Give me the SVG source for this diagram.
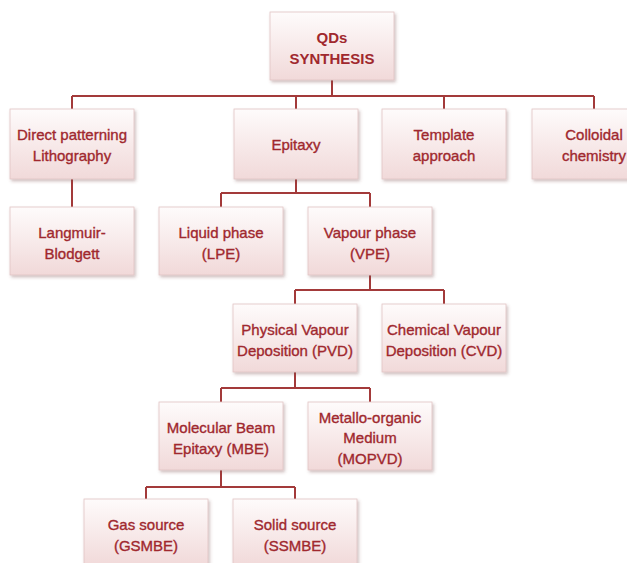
<svg xmlns="http://www.w3.org/2000/svg" width="627" height="563" viewBox="0 0 627 563">
<defs>
<linearGradient id="bg" x1="0" y1="0" x2="0" y2="1">
<stop offset="0" stop-color="#fefbfb"/>
<stop offset="1" stop-color="#f1d9d9"/>
</linearGradient>
<filter id="sh" x="-10%" y="-10%" width="125%" height="130%">
<feDropShadow dx="1.5" dy="2" stdDeviation="1.5" flood-color="#7a4a4a" flood-opacity="0.35"/>
</filter>
<style>
.box{fill:url(#bg);stroke:#e2c4c4;stroke-width:0.8;filter:url(#sh)}
.t{font-family:"Liberation Sans",Arial,sans-serif;font-size:15px;fill:#a0282e;stroke:#a0282e;stroke-width:0.35;text-anchor:middle}
.tb{font-weight:bold;stroke-width:0}
.c{fill:none;stroke:#a33a3a;stroke-width:2}
</style>
</defs>
<rect width="627" height="563" fill="#ffffff"/>
<g id="connectors">
<path class="c" d="M332,80V96M72,96H594M72,96V109M296,96V109M444,96V109M594,96V109"/>
<path class="c" d="M72,179V207"/>
<path class="c" d="M296,179V193M221,193H370M221,193V207M370,193V207"/>
<path class="c" d="M370,275V290M295,290H444M295,290V304M444,290V304"/>
<path class="c" d="M295,372V388M221,388H370M221,388V402M370,388V402"/>
<path class="c" d="M221,470V487M146,487H295M146,487V499M295,487V499"/>
</g>
<g id="qds">
<rect class="box" x="270" y="12" width="124" height="68"/>
<text class="t tb" x="332" y="43">QDs</text>
<text class="t tb" x="332" y="64">SYNTHESIS</text>
</g>
<g id="direct">
<rect class="box" x="10" y="109" width="124" height="70"/>
<text class="t" x="72" y="140">Direct patterning</text>
<text class="t" x="72" y="161">Lithography</text>
</g>
<g id="epitaxy">
<rect class="box" x="234" y="109" width="124" height="70"/>
<text class="t" x="296" y="150">Epitaxy</text>
</g>
<g id="template">
<rect class="box" x="382" y="109" width="124" height="70"/>
<text class="t" x="444" y="140">Template</text>
<text class="t" x="444" y="161">approach</text>
</g>
<g id="colloidal">
<rect class="box" x="532" y="109" width="124" height="70"/>
<text class="t" x="594" y="140">Colloidal</text>
<text class="t" x="594" y="161">chemistry</text>
</g>
<g id="langmuir">
<rect class="box" x="10" y="207" width="124" height="68"/>
<text class="t" x="72" y="238">Langmuir-</text>
<text class="t" x="72" y="259">Blodgett</text>
</g>
<g id="lpe">
<rect class="box" x="159" y="207" width="124" height="68"/>
<text class="t" x="221" y="238">Liquid phase</text>
<text class="t" x="221" y="259">(LPE)</text>
</g>
<g id="vpe">
<rect class="box" x="308" y="207" width="124" height="68"/>
<text class="t" x="370" y="238">Vapour phase</text>
<text class="t" x="370" y="259">(VPE)</text>
</g>
<g id="pvd">
<rect class="box" x="233" y="304" width="124" height="68"/>
<text class="t" x="295" y="335">Physical Vapour</text>
<text class="t" x="295" y="356">Deposition (PVD)</text>
</g>
<g id="cvd">
<rect class="box" x="382" y="304" width="124" height="68"/>
<text class="t" x="444" y="335">Chemical Vapour</text>
<text class="t" x="444" y="356">Deposition (CVD)</text>
</g>
<g id="mbe">
<rect class="box" x="159" y="402" width="124" height="68"/>
<text class="t" x="221" y="433">Molecular Beam</text>
<text class="t" x="221" y="454">Epitaxy (MBE)</text>
</g>
<g id="mopvd">
<rect class="box" x="308" y="402" width="124" height="68"/>
<text class="t" x="370" y="423">Metallo-organic</text>
<text class="t" x="370" y="443">Medium</text>
<text class="t" x="370" y="464">(MOPVD)</text>
</g>
<g id="gas">
<rect class="box" x="84" y="499" width="124" height="68"/>
<text class="t" x="146" y="530">Gas source</text>
<text class="t" x="146" y="551">(GSMBE)</text>
</g>
<g id="solid">
<rect class="box" x="233" y="499" width="124" height="68"/>
<text class="t" x="295" y="530">Solid source</text>
<text class="t" x="295" y="551">(SSMBE)</text>
</g>
</svg>
